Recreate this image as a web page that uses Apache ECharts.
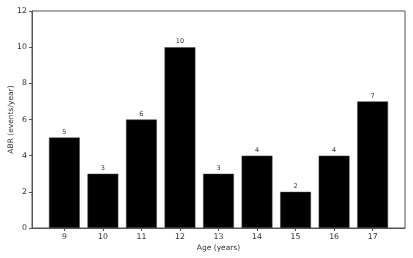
<!DOCTYPE html>
<html><head><meta charset="utf-8">
<script src="https://cdn.jsdelivr.net/npm/echarts@6/dist/echarts.min.js"></script>
<style>html,body{margin:0;padding:0;background:#fff}#c{width:413px;height:258px}</style>
</head><body><div id="c"></div>
<script>
const ages = [9, 10, 11, 12, 13, 14, 15, 16, 17];
const abr = [5, 3, 6, 10, 3, 4, 2, 4, 7];
const yTicks = [0, 2, 4, 6, 8, 10, 12];

const chart = echarts.init(document.getElementById('c'), null, {renderer: 'canvas'});
const txt = '#333';
chart.setOption({
  animation: false,
  grid: {left: 32, right: 8, top: 11, bottom: 30, containLabel: false, outerBoundsMode: 'none',
    show: true, borderColor: '#555', borderWidth: 1},
  xAxis: {
    type: 'value', min: 8.16, max: 17.84, interval: 1,
    name: 'Age (years)', nameLocation: 'middle', nameGap: 16.5, nameMoveOverlap: false,
    nameTextStyle: {fontFamily: 'DejaVu Sans', fontSize: 7.5, color: txt, verticalAlign: 'top'},
    axisLine: {show: true, onZero: false, lineStyle: {color: '#555'}},
    axisTick: {show: true, length: 3, lineStyle: {color: '#555'},
      customValues: ages},
    axisLabel: {fontFamily: 'DejaVu Sans', fontSize: 7.8, color: txt, margin: 5,
      customValues: ages, formatter: v => String(v)},
    splitLine: {show: false}
  },
  yAxis: {
    type: 'value', min: 0, max: 12, interval: 2,
    name: 'ABR (events/year)', nameLocation: 'middle', nameGap: 17, nameRotate: 90, nameMoveOverlap: false,
    nameTextStyle: {fontFamily: 'DejaVu Sans', fontSize: 7.5, color: txt},
    axisLine: {show: true, lineStyle: {color: '#555'}},
    axisTick: {show: true, length: 3, lineStyle: {color: '#555'}},
    axisLabel: {fontFamily: 'DejaVu Sans', fontSize: 7.8, color: txt, margin: 5,
      customValues: yTicks},
    splitLine: {show: false}
  },
  series: [{
    type: 'bar',
    data: ages.map((a, i) => [a, abr[i]]),
    barWidth: '80%',
    itemStyle: {color: '#000', borderColor: '#444', borderWidth: 0.5},
    label: {show: true, position: 'top', distance: 2, fontFamily: 'DejaVu Sans', fontSize: 6.5, color: txt,
      formatter: p => String(p.value[1])}
  }]
});
</script></body></html>
